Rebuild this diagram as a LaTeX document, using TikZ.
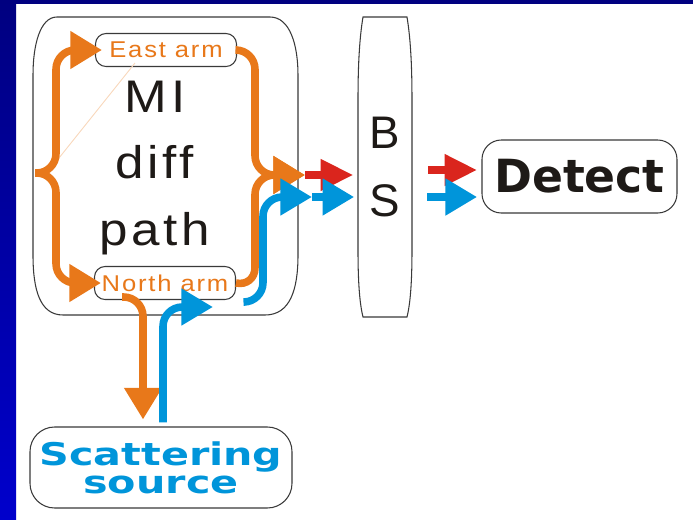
\documentclass[tikz,border=0pt]{standalone}
\usepackage{fontspec}
\setmainfont{Liberation Sans}
\newfontfamily\armfont[FakeStretch=1.12,LetterSpace=8]{Liberation Sans}
\newfontfamily\heavyfont{DejaVu Sans}
\newfontfamily\widefont[FakeStretch=1.32]{DejaVu Sans}
\usetikzlibrary{arrows.meta,calc,positioning}
\definecolor{armorange}{HTML}{E8781A}
\definecolor{beamblue}{HTML}{0095DA}
\definecolor{beamred}{HTML}{DA251D}
\definecolor{boxgray}{HTML}{3A3A3A}
\definecolor{textdark}{HTML}{1E1A17}
\definecolor{barnavy}{HTML}{000080}
\definecolor{barblue}{HTML}{0000CC}
\definecolor{faintorange}{HTML}{F9D9BE}
\newcommand{\pxu}{0.2mm}

\begin{document}
\begin{tikzpicture}[x=\pxu,y=-\pxu,
    outline/.style={draw=boxgray,line width=0.6pt},
    roundbox/.style={outline,rounded corners=#1,inner sep=0pt,align=center},
    armflow/.style={armorange,line width=4.3pt,rounded corners=11pt,-{Triangle[length=18pt,width=20.5pt]}},
    redbeam/.style={beamred,line width=4.3pt,-{Triangle[length=18.5pt,width=17pt]}},
    bluebeam/.style={beamblue,line width=4.3pt,rounded corners=11pt,-{Triangle[length=18pt,width=20pt]}}]
    \useasboundingbox (0,0) rectangle (693,520);
    \fill[white] (0,0) rectangle (693,520);
    \shade[top color=barnavy,bottom color=barblue] (0,0) rectangle (16,520);
    \fill[barnavy] (0,0) rectangle (693,3.5);

    \draw[outline] (57,17) -- (270,17) .. controls (290,17) and (298,45) .. (298,75) -- (298,255)
      .. controls (298,290) and (290,315) .. (265,315) -- (63,315) .. controls (40,315) and (33,290) .. (33,255)
      -- (33,75) .. controls (33,45) and (40,17) .. (57,17) -- cycle;
    \draw[outline] (363,17) -- (407,17) .. controls (410,35) and (412,60) .. (412,100) -- (412,250)
      .. controls (412,285) and (410,305) .. (407,317) -- (363,317) .. controls (360,305) and (358,285) .. (358,250)
      -- (358,100) .. controls (358,60) and (360,35) .. (363,17) -- cycle;

    \node[roundbox=6pt,minimum width=141*\pxu,minimum height=33*\pxu,text=armorange,font=\armfont\fontsize{13}{15}\selectfont] (eastarm) at (166,50) {East arm};
    \node[roundbox=6pt,minimum width=141*\pxu,minimum height=33*\pxu,text=armorange,font=\armfont\fontsize{13}{15}\selectfont] (northarm) at (165,283) {North arm};
    \node[align=center,text=textdark,inner sep=0pt,font=\armfont\fontsize{26}{38}\selectfont] (midiff) at (155,168) {MI\\diff\\path};
    \node[align=center,text=textdark,inner sep=0pt,minimum width=54*\pxu,minimum height=300*\pxu,font=\fontsize{26}{38.5}\selectfont] (bs) at (385,167) {B\\S};
    \node[roundbox=11pt,minimum width=195*\pxu,minimum height=73*\pxu,text=textdark,font=\heavyfont\bfseries\fontsize{26}{30}\selectfont] (detect) at (579.5,176.5) {Detect};
    \node[roundbox=14pt,minimum width=262*\pxu,minimum height=81*\pxu,text=beamblue,font=\widefont\bfseries\fontsize{17.8}{16}\selectfont] (source) at (161,467.5) {Scattering\\source};

    \coordinate (split) at (35,173);
    \coordinate (join) at (305,175);
    \coordinate (bluetop) at (245,302);
    \coordinate (bluemid) at (312,197);
    \coordinate (redin) at (428,170);
    \coordinate (bluein) at (427,197);

    \draw[faintorange,line width=0.5pt] (55,163) -- (135,63);
    \draw[armflow] (split) -- (56,173) -- (56,50) -- ($(eastarm.west)+(7,0)$);
    \draw[armflow] (split) -- (56,173) -- (56,283) -- ($(northarm.west)+(7,0)$);
    \draw[armflow] (eastarm.east) -- (255,50) -- (255,175) -- (join);
    \draw[armflow] (northarm.east) -- (255,287) -- (255,175) -- (join);
    \draw[armflow] (122,297) -- (143,297) -- ($(source.north)+(-18,-7)$);
    \draw[redbeam,shorten >=2.5pt] (join) -- (join -| bs.west);
    \draw[redbeam,shorten >=2.5pt] (redin) -- (redin -| detect.west);
    \draw[bluebeam] (bluetop) -- (263,302) -- (263,197) -- (bluemid);
    \draw[bluebeam,shorten >=2pt] (bluemid) -- (bluemid -| bs.west);
    \draw[bluebeam,shorten >=2.5pt] (bluein) -- (bluein -| detect.west);
    \draw[bluebeam] ($(source.north)+(2,-4)$) -- (163,307) -- (213,307);
  \end{tikzpicture}
\end{document}
